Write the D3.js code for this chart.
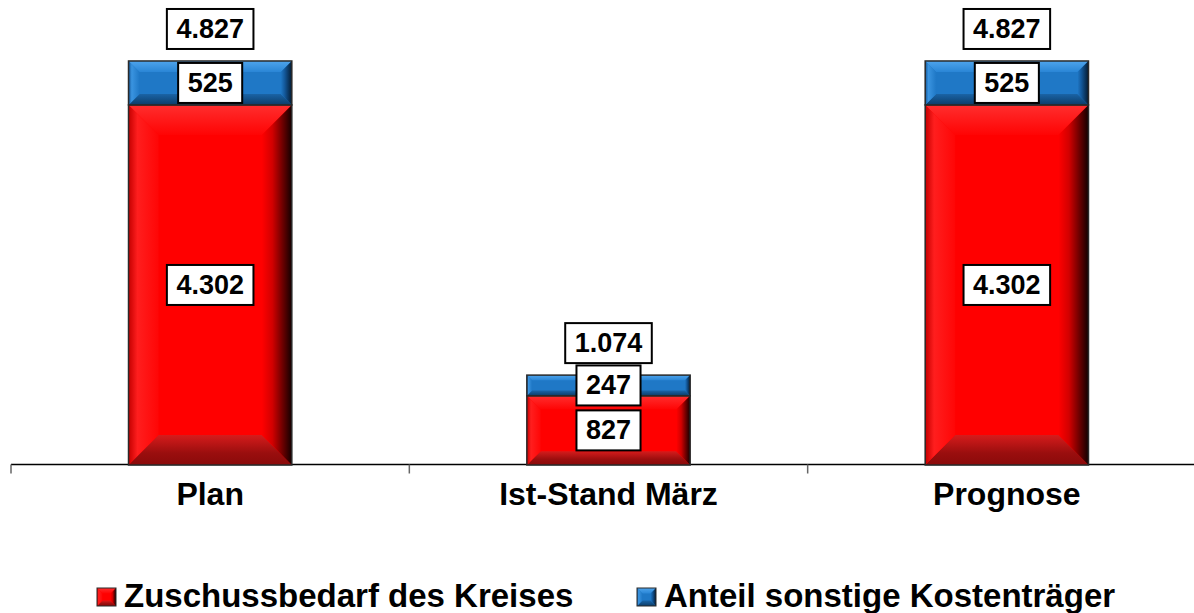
<!DOCTYPE html>
<html>
<head>
<meta charset="utf-8">
<script src="https://cdn.jsdelivr.net/npm/d3@7"></script>
<style>
  html, body { margin: 0; padding: 0; background: #fff; }
  svg { display: block; font-family: "Liberation Sans", Arial, sans-serif; }
</style>
</head>
<body>
<svg id="chart" width="1194" height="613"></svg>
<script>
// ---- data ----
const categories = ["Plan", "Ist-Stand März", "Prognose"];
const zuschuss = [4302, 827, 4302];   // Zuschussbedarf des Kreises
const sonstige = [525, 247, 525];     // Anteil sonstige Kostenträger
const seriesNames = ["Zuschussbedarf des Kreises", "Anteil sonstige Kostenträger"];
const yDomain = [0, 5000];

const de = d3.formatLocale({decimal: ",", thousands: ".", grouping: [3], currency: ["", " €"]});
const fmt = de.format(",d");

const svg = d3.select("#chart");
const W = 1194, H = 613;

const x = d3.scaleBand().domain(categories).range([11, 1206]).paddingInner(0).paddingOuter(0);
const y = d3.scaleLinear().domain(yDomain).range([465, 46.5]);
const barW = x.bandwidth() * 0.41;

const palettes = {
  red: {
    main: "#ff0000",
    top: [[0, "#ff2e2e"], [1, "#ff0404"]],
    left: [[0, "#c40000"], [0.3, "#ff1e1e"], [1, "#ff0606"]],
    right: [[0, "#ff0000"], [0.35, "#d20000"], [1, "#120000"]],
    bottom: [[0, "#d61c1c"], [0.6, "#9a0e0e"], [1, "#8a0a0a"]]
  },
  blue: {
    main: "#1f78c6",
    top: [[0, "#4ea4ec"], [1, "#2a86d6"]],
    left: [[0, "#14589a"], [0.3, "#3a94e0"], [1, "#1f78c6"]],
    right: [[0, "#1f78c6"], [0.35, "#13589a"], [1, "#041a30"]],
    bottom: [[0, "#1a64a6"], [1, "#0c3c68"]]
  }
};

const defs = svg.append("defs");
function grad(id, stops, horizontal) {
  const g = defs.append("linearGradient").attr("id", id)
    .attr("x1", 0).attr("y1", 0)
    .attr("x2", horizontal ? 1 : 0).attr("y2", horizontal ? 0 : 1);
  stops.forEach(s => g.append("stop").attr("offset", s[0]).attr("stop-color", s[1]));
}
Object.entries(palettes).forEach(([k, p]) => {
  grad(k + "-top", p.top, false);
  grad(k + "-bottom", p.bottom, false);
  grad(k + "-left", p.left, true);
  grad(k + "-right", p.right, true);
});

function bevelRect(g, x0, y0, w, h, key, maxB, ratio, strokeW) {
  const p = palettes[key];
  const b = Math.min(maxB, ratio * Math.min(w, h));
  const line = pts => "M" + pts.map(d => d.join(",")).join("L") + "Z";
  g.append("rect").attr("x", x0).attr("y", y0).attr("width", w).attr("height", h).attr("fill", p.main);
  g.append("path").attr("d", line([[x0, y0], [x0 + w, y0], [x0 + w - b, y0 + b], [x0 + b, y0 + b]])).attr("fill", `url(#${key}-top)`);
  g.append("path").attr("d", line([[x0, y0 + h], [x0 + w, y0 + h], [x0 + w - b, y0 + h - b], [x0 + b, y0 + h - b]])).attr("fill", `url(#${key}-bottom)`);
  g.append("path").attr("d", line([[x0, y0], [x0 + b, y0 + b], [x0 + b, y0 + h - b], [x0, y0 + h]])).attr("fill", `url(#${key}-left)`);
  g.append("path").attr("d", line([[x0 + w, y0], [x0 + w - b, y0 + b], [x0 + w - b, y0 + h - b], [x0 + w, y0 + h]])).attr("fill", `url(#${key}-right)`);
  g.append("rect").attr("x", x0).attr("y", y0).attr("width", w).attr("height", h)
    .attr("fill", "none").attr("stroke", "#2a2a2a").attr("stroke-width", strokeW);
}

// ---- axis ----
const axisY = y(0) - 0.5;
svg.append("line").attr("x1", x.range()[0]).attr("x2", W).attr("y1", axisY).attr("y2", axisY)
  .attr("stroke", "#000").attr("stroke-width", 1.5);
const tickXs = categories.map(c => x(c)).concat([x.range()[1]]);
svg.selectAll(".tick").data(tickXs).enter().append("line")
  .attr("x1", d => d).attr("x2", d => d).attr("y1", axisY).attr("y2", axisY + 9)
  .attr("stroke", "#666").attr("stroke-width", 1.5);

// ---- bars ----
const barsG = svg.append("g");
categories.forEach((c, i) => {
  const bx = x(c) + (x.bandwidth() - barW) / 2;
  const total = zuschuss[i] + sonstige[i];
  const gr = barsG.append("g");
  bevelRect(gr, bx, y(zuschuss[i]), barW, y(0) - y(zuschuss[i]), "red", 30, 0.2, 1.5);
  bevelRect(gr, bx, y(total), barW, y(zuschuss[i]) - y(total), "blue", 30, 0.25, 1.5);
});

// ---- labels ----
const labelsG = svg.append("g");
function boxLabel(cx, cy, text) {
  const g = labelsG.append("g");
  const rect = g.append("rect");
  const t = g.append("text").attr("x", cx).attr("y", cy).attr("text-anchor", "middle")
    .attr("dominant-baseline", "central")
    .attr("font-size", 27).attr("font-weight", "bold").attr("fill", "#000").text(text);
  const tw = t.node().getComputedTextLength();
  const bw = tw + 19, bh = 40;
  rect.attr("x", cx - bw / 2).attr("y", cy - bh / 2).attr("width", bw).attr("height", bh)
    .attr("fill", "#fff").attr("stroke", "#000").attr("stroke-width", 2);
}
categories.forEach((c, i) => {
  const cx = x(c) + x.bandwidth() / 2;
  const total = zuschuss[i] + sonstige[i];
  boxLabel(cx, (y(0) + y(zuschuss[i])) / 2, fmt(zuschuss[i]));
  boxLabel(cx, (y(zuschuss[i]) + y(total)) / 2, fmt(sonstige[i]));
  boxLabel(cx, y(total) - 32, fmt(total));
});

// ---- category labels ----
svg.selectAll(".cat").data(categories).enter().append("text")
  .attr("x", d => x(d) + x.bandwidth() / 2).attr("y", 505)
  .attr("text-anchor", "middle").attr("font-size", 32).attr("font-weight", "bold")
  .attr("fill", "#000").text(d => d);

// ---- legend ----
const legendItems = [
  {name: seriesNames[0], key: "red", sx: 97, tx: 124},
  {name: seriesNames[1], key: "blue", sx: 637, tx: 664}
];
legendItems.forEach(it => {
  const g = svg.append("g");
  bevelRect(g, it.sx, 588, 19, 18, it.key, 6, 0.3, 1);
  svg.append("text").attr("x", it.tx).attr("y", 607)
    .attr("font-size", 33).attr("font-weight", "bold").attr("fill", "#000").text(it.name);
});
</script>
</body>
</html>
